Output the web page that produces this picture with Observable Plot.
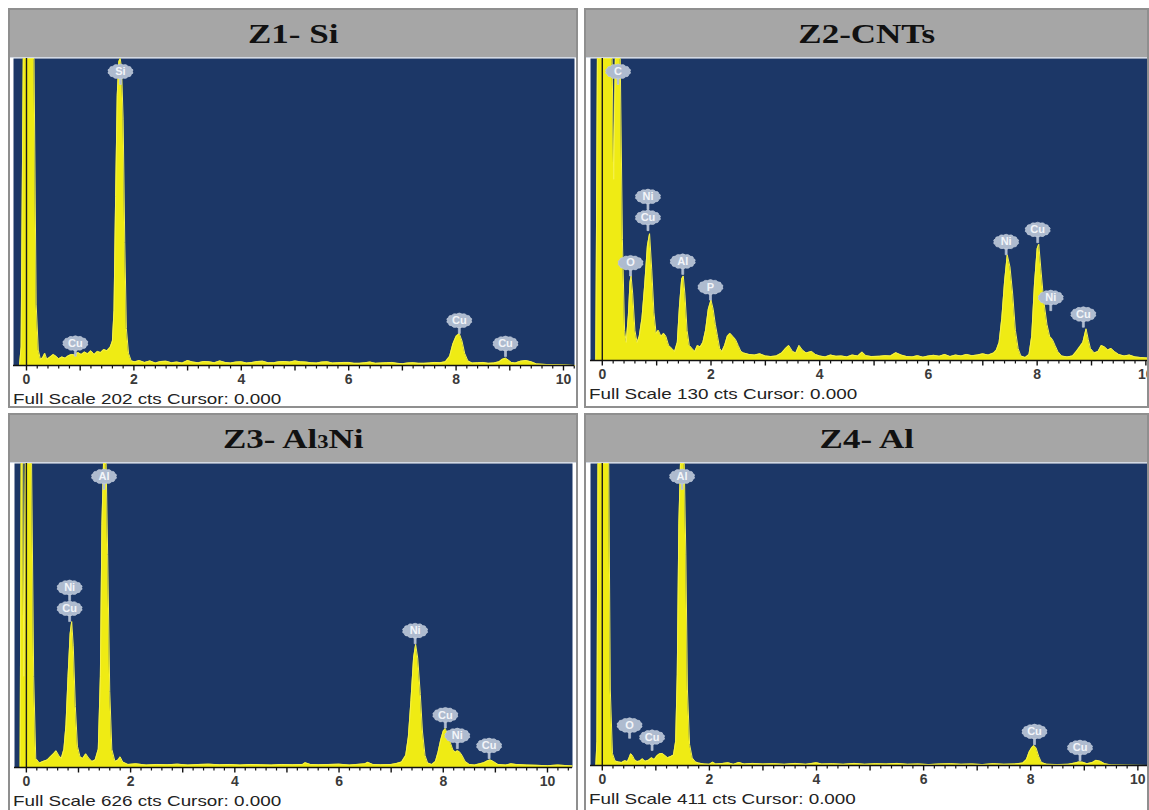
<!DOCTYPE html>
<html>
<head>
<meta charset="utf-8">
<script src="https://cdn.jsdelivr.net/npm/d3@7"></script>
<script src="https://cdn.jsdelivr.net/npm/@observablehq/plot@0.6"></script>
<style>
  body { margin: 0; background: #fff; }
  #root { position: relative; width: 1149px; height: 810px; overflow: hidden; background: #fff; }
  .panel { position: absolute; box-sizing: border-box; border: 2px solid #8f8f8f; background: #fff; overflow: hidden; }
  .title { height: 48px; box-sizing: border-box; background: #a6a6a6; border-bottom: 1px solid #d4dae4;
           font-family: "Liberation Serif", "Times New Roman", serif; font-weight: bold; font-size: 28px;
           color: #111; text-align: center; line-height: 48px; }
  .title span.t { display: inline-block; transform: scaleX(1.25); }
  .title .sub { font-size: 18px; }
  .footer { font-family: "Liberation Sans", Arial, sans-serif; font-size: 14.5px; color: #222; padding-left: 3px;
            line-height: 16px; white-space: nowrap; }
  .footer span { display: inline-block; transform: scaleX(1.3); transform-origin: left center; }
  svg { display: block; }
</style>
</head>
<body>
<div id="root"></div>
<script>
// ---------------- data ----------------
const titles = ["Z1- Si", "Z2-CNTs", "Z3- Al<span class=\"sub\">3</span>Ni", "Z4- Al"];
const fullScaleCounts = [202, 130, 626, 411];
const majorTicks = [0, 2, 4, 6, 8, 10];
const intTicks = [0, 1, 2, 3, 4, 5, 6, 7, 8, 9, 10];

// spectra: [energy keV, counts as % of full scale]
const z1Spectrum = [
  [-0.24,0],[-0.13,0],[-0.1,6],[-0.06,150],[0.14,150],[0.18,20],[0.22,5],[0.26,2],[0.3,2.5],[0.34,4],[0.38,2],
  [0.44,2.8],[0.5,3.6],[0.55,3],[0.6,2.2],[0.66,2.8],[0.72,2.4],[0.78,3.2],[0.84,3.6],[0.9,3.4],[0.96,4.2],
  [1.02,3.6],[1.08,4.4],[1.14,3.8],[1.2,4.8],[1.26,3.6],[1.32,4.6],[1.38,4.2],[1.44,5.2],[1.5,4.8],[1.56,6],
  [1.6,8],[1.63,18],[1.66,55],[1.69,88],[1.72,99],[1.745,101],[1.77,97],[1.8,80],[1.83,40],[1.86,12],[1.9,4],
  [1.95,1.5],[2.02,1.2],[2.1,1.6],[2.2,1.0],[2.3,1.5],[2.4,0.8],[2.5,1.3],[2.6,1.4],[2.7,0.9],[2.8,1.1],
  [2.9,0.8],[3.0,1.6],[3.1,1.1],[3.2,0.9],[3.3,1.3],[3.4,1.2],[3.5,0.9],[3.6,1.5],[3.7,1.0],[3.8,0.8],
  [3.9,1.1],[4.0,1.2],[4.1,0.8],[4.2,1.0],[4.3,1.3],[4.4,1.4],[4.5,0.9],[4.6,0.9],[4.7,1.2],[4.8,1.3],
  [4.9,1.1],[5.0,1.5],[5.1,1.2],[5.2,1.1],[5.3,0.9],[5.4,0.8],[5.5,1.1],[5.6,1.2],[5.7,0.8],[5.8,0.9],
  [5.9,1.0],[6.0,1.0],[6.1,0.7],[6.2,0.7],[6.3,0.9],[6.4,1.1],[6.5,0.7],[6.6,0.8],[6.7,0.9],[6.8,1.0],
  [6.9,0.7],[7.0,0.6],[7.1,0.8],[7.2,0.9],[7.3,0.7],[7.4,0.7],[7.5,0.8],[7.6,1.0],[7.7,0.9],[7.8,1.2],
  [7.88,3],[7.94,7],[8.0,9.5],[8.06,10.4],[8.11,8],[8.16,4],[8.22,1.5],[8.3,0.8],[8.4,0.9],[8.5,1.0],
  [8.6,0.7],[8.7,0.8],[8.8,1.2],[8.86,2],[8.92,2.4],[8.97,1.8],[9.03,1.0],[9.1,0.8],[9.2,1.4],[9.3,1.6],
  [9.4,1.2],[9.5,0.5],[9.7,0.3],[10.0,0.2],[10.21,0]
];
const z2Spectrum = [
  [-0.22,0],[-0.12,0],[-0.09,150],[0.18,150],[0.21,60],[0.24,150],[0.33,150],[0.37,40],[0.41,10],[0.44,6],
  [0.48,15],[0.51,26],[0.53,28],[0.56,22],[0.6,10],[0.64,6],[0.68,8],[0.73,14],[0.78,25],[0.83,38],[0.87,42],
  [0.91,30],[0.95,16],[0.99,9],[1.03,10],[1.08,8],[1.13,9],[1.17,8],[1.22,5],[1.28,4],[1.33,3],[1.38,6],
  [1.42,18],[1.46,27],[1.49,28],[1.52,22],[1.56,10],[1.6,5],[1.65,4],[1.7,3],[1.75,5],[1.8,4.5],[1.85,6],
  [1.9,10],[1.95,17],[2.0,20],[2.04,17],[2.08,12],[2.12,8],[2.16,4],[2.2,3],[2.25,5],[2.3,8],[2.35,9],
  [2.4,8],[2.45,7],[2.5,5],[2.55,3],[2.6,2.5],[2.7,2],[2.8,1.8],[2.9,2.2],[3.0,1.5],[3.1,1.3],[3.2,1.5],
  [3.3,2.5],[3.37,4],[3.43,5],[3.5,3],[3.56,2.5],[3.62,5],[3.68,3.5],[3.75,2.5],[3.85,3],[3.92,2],[4.0,1.5],
  [4.1,1.2],[4.2,1.8],[4.3,1.4],[4.4,1.5],[4.5,1.2],[4.6,1.8],[4.7,1.5],[4.78,2.8],[4.85,1.6],[4.95,1.3],
  [5.1,1.4],[5.2,1.6],[5.3,1.5],[5.4,2.6],[5.5,1.8],[5.6,1.3],[5.7,1.2],[5.8,1.6],[5.9,1.1],[6.0,1.5],
  [6.1,1.7],[6.2,1.4],[6.3,2],[6.4,1.3],[6.5,1.8],[6.6,1.5],[6.7,2],[6.8,1.6],[6.9,1.8],[7.0,2.2],[7.1,1.8],
  [7.2,2.5],[7.25,3.5],[7.3,6],[7.35,14],[7.4,26],[7.45,35],[7.5,31],[7.55,22],[7.6,10],[7.65,4],[7.7,1.5],
  [7.78,1],[7.85,2],[7.9,8],[7.95,25],[8.0,37],[8.03,38.5],[8.07,30],[8.12,20],[8.18,12],[8.23,8],[8.28,7],
  [8.33,5],[8.38,3],[8.45,1.5],[8.55,1.2],[8.65,1.5],[8.72,3],[8.78,4.5],[8.84,6],[8.9,10.5],[8.94,7],
  [8.98,4],[9.05,2.5],[9.12,3],[9.18,5],[9.24,4.5],[9.3,3.5],[9.36,4],[9.42,3],[9.5,2],[9.6,1.5],[9.7,1.8],
  [9.8,1.2],[9.9,1.0],[10.03,0.8]
];
const z3Spectrum = [
  [-0.23,0],[-0.12,0],[-0.1,150],[-0.07,150],[-0.05,30],[-0.02,150],[0.1,150],[0.14,30],[0.18,3],[0.25,1.5],
  [0.32,2],[0.4,2.5],[0.46,3.5],[0.52,4.5],[0.57,5.5],[0.62,4],[0.67,3],[0.72,6],[0.76,14],[0.8,30],[0.84,44],
  [0.87,48],[0.9,40],[0.94,20],[0.98,7],[1.03,3.5],[1.08,3],[1.14,4.5],[1.2,3],[1.26,2],[1.32,2.5],[1.38,6],
  [1.42,30],[1.45,80],[1.48,100],[1.5,110],[1.53,100],[1.56,70],[1.6,25],[1.64,6],[1.7,2],[1.76,2.5],[1.8,3.5],
  [1.85,1.8],[1.95,1],[2.1,1.2],[2.3,0.8],[2.5,1],[2.7,0.9],[2.9,1.1],[3.1,0.8],[3.3,1],[3.5,1.1],[3.7,0.9],
  [3.9,1],[4.1,0.8],[4.3,1],[4.5,0.9],[4.7,0.8],[4.9,1],[5.1,0.9],[5.3,1],[5.35,1.6],[5.45,1],[5.6,0.9],
  [5.8,1],[6.0,1.1],[6.2,0.8],[6.5,1.2],[6.55,1.7],[6.65,1],[6.8,0.9],[7.0,1],[7.1,1.3],[7.2,1.8],[7.28,4],
  [7.33,10],[7.38,22],[7.43,36],[7.47,40.5],[7.51,36],[7.56,24],[7.6,12],[7.65,4],[7.7,1.5],[7.78,1],[7.85,2],
  [7.9,5],[7.95,9],[8.0,12],[8.04,12.8],[8.08,11],[8.13,8.5],[8.18,6],[8.23,5],[8.27,5.5],[8.31,5.2],[8.36,4],
  [8.42,2],[8.5,1],[8.6,0.8],[8.7,1.2],[8.78,1.6],[8.85,2.2],[8.9,2.5],[8.96,2],[9.05,1],[9.2,0.8],[9.3,1.2],
  [9.4,1],[9.6,0.8],[9.8,0.7],[10.0,0.6],[10.2,0.8],[10.48,0.5]
];
const z4Spectrum = [
  [-0.22,0],[-0.12,0],[-0.1,8],[-0.08,150],[0.12,150],[0.15,25],[0.19,4],[0.24,1.5],[0.3,1.2],[0.36,1],
  [0.42,1.6],[0.47,1.3],[0.5,2.5],[0.53,3.9],[0.56,3.4],[0.6,2],[0.65,1.3],[0.7,1.5],[0.75,2.2],[0.8,1.4],
  [0.86,1.7],[0.92,2.6],[0.97,2],[1.02,3.2],[1.07,3.9],[1.12,4],[1.17,3.3],[1.22,2.6],[1.28,3],[1.33,3.5],
  [1.37,8],[1.4,30],[1.43,80],[1.46,130],[1.53,130],[1.56,70],[1.59,25],[1.63,7],[1.68,2.5],[1.74,1.2],
  [1.8,0.8],[1.9,0.5],[2.0,0.4],[2.06,1.1],[2.12,0.5],[2.25,0.7],[2.35,0.9],[2.45,0.4],[2.55,1],[2.65,0.5],
  [2.8,0.7],[3.0,0.5],[3.2,0.6],[3.4,0.4],[3.6,0.7],[3.8,0.4],[4.0,0.9],[4.1,0.5],[4.3,0.6],[4.5,0.4],
  [4.7,0.7],[4.9,0.4],[5.1,0.6],[5.3,0.5],[5.5,0.7],[5.7,0.4],[5.9,0.5],[6.1,0.3],[6.3,0.5],[6.5,0.6],
  [6.7,0.4],[6.9,0.5],[7.1,0.3],[7.3,0.6],[7.5,0.4],[7.7,0.5],[7.85,0.8],[7.92,2],[7.97,4.5],[8.02,6],
  [8.06,6.6],[8.1,5.8],[8.15,3],[8.2,1],[8.3,0.4],[8.5,0.3],[8.7,0.4],[8.82,0.8],[8.9,1.2],[8.97,1.1],
  [9.05,0.6],[9.15,1],[9.22,1.7],[9.3,1.4],[9.38,0.6],[9.5,0.2],[9.8,0.1],[10.18,0]
];

// peak labels: element, energy (keV), anchor count (%); up = stacked above the one below
const z1Labels = [
  {el: "Si", x: 1.75, y: 100},
  {el: "Cu", x: 0.91, y: 3},
  {el: "Cu", x: 8.06, y: 10.4},
  {el: "Cu", x: 8.92, y: 2.9}
];
const z2Labels = [
  {el: "C", x: 0.29, y: 100},
  {el: "O", x: 0.52, y: 28},
  {el: "Cu", x: 0.84, y: 43},
  {el: "Ni", x: 0.84, y: 43, up: true},
  {el: "Al", x: 1.48, y: 28.5},
  {el: "P", x: 1.99, y: 20},
  {el: "Ni", x: 7.43, y: 35},
  {el: "Cu", x: 8.01, y: 39},
  {el: "Ni", x: 8.25, y: 16.5},
  {el: "Cu", x: 8.85, y: 11}
];
const z3Labels = [
  {el: "Cu", x: 0.83, y: 48},
  {el: "Ni", x: 0.83, y: 48, up: true},
  {el: "Al", x: 1.49, y: 100},
  {el: "Ni", x: 7.46, y: 40.7},
  {el: "Cu", x: 8.04, y: 13},
  {el: "Ni", x: 8.27, y: 6.2},
  {el: "Cu", x: 8.88, y: 2.9}
];
const z4Labels = [
  {el: "O", x: 0.51, y: 9},
  {el: "Cu", x: 0.93, y: 5},
  {el: "Al", x: 1.49, y: 100},
  {el: "Cu", x: 8.07, y: 6.9},
  {el: "Cu", x: 8.92, y: 1.6}
];

// ---------------- layout / style ----------------
const BLUE = "#1c3767", YELLOW = "#efeb14", YELLOW_LINE = "#f6f24a", BUBBLE = "#aebbcf";
const panels = [
  {title: titles[0], fs: fullScaleCounts[0], spec: z1Spectrum, labels: z1Labels, left: 8,   top: 8,   w: 570, h: 400, plotH: 307, ml: 3, mr: 2, domain: [-0.242, 10.205]},
  {title: titles[1], fs: fullScaleCounts[1], spec: z2Spectrum, labels: z2Labels, left: 584, top: 8,   w: 565, h: 400, plotH: 302, ml: 4, mr: 0, domain: [-0.217, 10.03]},
  {title: titles[2], fs: fullScaleCounts[2], spec: z3Spectrum, labels: z3Labels, left: 8,   top: 413, w: 570, h: 400, plotH: 304, ml: 4, mr: 4, domain: [-0.228, 10.48]},
  {title: titles[3], fs: fullScaleCounts[3], spec: z4Spectrum, labels: z4Labels, left: 584, top: 413, w: 565, h: 400, plotH: 302, ml: 4, mr: 0, domain: [-0.22, 10.18]}
];

const minorTicks = d3.range(0, 53).map(i => i / 5).filter(v => v % 1 !== 0);
const tickSymbol = len => ({draw(ctx) { ctx.moveTo(0, 0); ctx.lineTo(0, len); }});
const bubbleSymbol = {
  draw(ctx) {
    const rx = 12, ry = 6.8, cy = -13, N = 14;
    for (let i = 0; i < N; i++) {
      const a0 = 2 * Math.PI * i / N, a1 = 2 * Math.PI * (i + 1) / N, am = (a0 + a1) / 2;
      const x0 = rx * Math.cos(a0), y0 = cy + ry * Math.sin(a0);
      const x1 = rx * Math.cos(a1), y1 = cy + ry * Math.sin(a1);
      const xm = rx * 1.16 * Math.cos(am), ym = cy + ry * 1.25 * Math.sin(am);
      if (i === 0) ctx.moveTo(x0, y0);
      ctx.quadraticCurveTo(xm, ym, x1, y1);
    }
    ctx.closePath();
    ctx.moveTo(-1, cy + ry); ctx.lineTo(1, cy + ry); ctx.lineTo(1, 0); ctx.lineTo(-1, 0); ctx.closePath();
  }
};

function labelMarks(data, dy) {
  return [
    Plot.dot(data, {x: "x", y: d => Math.min(d.y, 100), symbol: bubbleSymbol, fill: BUBBLE, stroke: "#c3cddc", strokeWidth: 0.6, dy}),
    Plot.text(data, {x: "x", y: d => Math.min(d.y, 100), text: "el", dy: dy - 13, fill: "#f3f5f9", fontSize: 11, fontWeight: "bold",
                     fontFamily: "Liberation Sans, Arial, sans-serif"})
  ];
}

function makePlot(p) {
  const W = p.w - 4;
  const lower = p.labels.filter(d => d.y < 100 && !d.up);
  const upper = p.labels.filter(d => d.up);
  const atTop = p.labels.filter(d => d.y >= 100);
  return Plot.plot({
    width: W,
    height: p.plotH + 26,
    marginLeft: p.ml, marginRight: p.mr, marginTop: 0, marginBottom: 26,
    style: {background: "white", fontFamily: "Liberation Sans, Arial, sans-serif", fontSize: "14px", fontWeight: "bold", color: "#3a3a3a"},
    x: {domain: p.domain, ticks: majorTicks, tickSize: 0, tickPadding: 9, tickFormat: d => String(d), label: null},
    y: {domain: [0, 100], clamp: true, axis: null, label: null},
    marks: [
      Plot.frame({fill: BLUE, stroke: "none"}),
      Plot.areaY(p.spec, {x: d => d[0], y: d => d[1], fill: YELLOW}),
      Plot.lineY(p.spec, {x: d => d[0], y: d => d[1], stroke: YELLOW_LINE, strokeWidth: 1}),
      Plot.ruleX([0], {stroke: "#1a1a1a", strokeWidth: 1.4}),
      Plot.ruleY([0], {stroke: "#111", strokeWidth: 1.3}),
      Plot.dot(minorTicks, {x: d => d, y: 0, symbol: tickSymbol(3), fill: "none", stroke: "#111", strokeWidth: 1.2}),
      Plot.dot(intTicks, {x: d => d, y: 0, symbol: tickSymbol(5), fill: "none", stroke: "#111", strokeWidth: 1.4}),
      ...labelMarks(lower, 0),
      ...labelMarks(upper, -21),
      ...labelMarks(atTop, 26)
    ]
  });
}

const root = document.getElementById("root");
for (const p of panels) {
  const div = document.createElement("div");
  div.className = "panel";
  Object.assign(div.style, {left: p.left + "px", top: p.top + "px", width: p.w + "px", height: p.h + "px"});
  const t = document.createElement("div");
  t.className = "title";
  t.innerHTML = `<span class="t">${p.title}</span>`;
  div.appendChild(t);
  div.appendChild(makePlot(p));
  const f = document.createElement("div");
  f.className = "footer";
  f.innerHTML = `<span>Full Scale ${p.fs} cts Cursor: 0.000</span>`;
  div.appendChild(f);
  root.appendChild(div);
}
</script>
</body>
</html>
